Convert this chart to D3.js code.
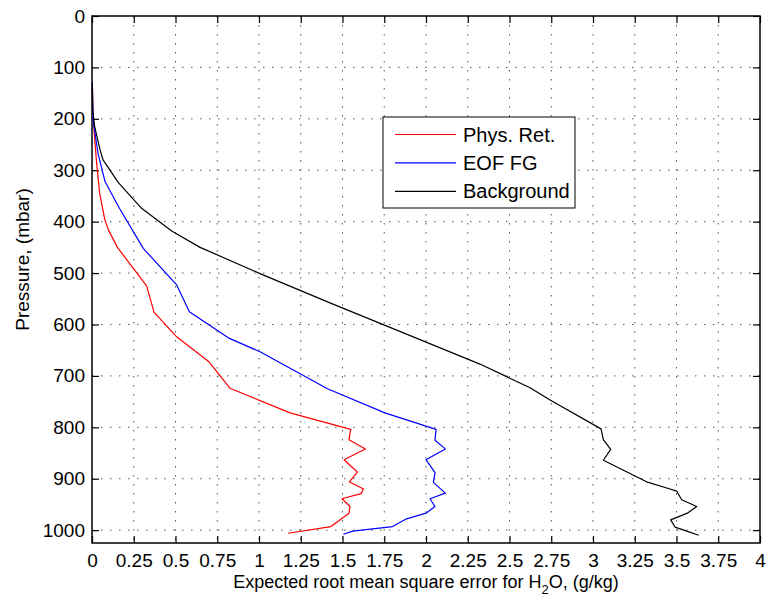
<!DOCTYPE html>
<html>
<head>
<meta charset="utf-8">
<script src="https://cdn.jsdelivr.net/npm/d3@7"></script>
<style>
  body { margin: 0; background: #fff; }
  text { font-family: "Liberation Sans", Arial, Helvetica, sans-serif; }
</style>
</head>
<body>
<div id="chart"></div>
<script>
// pressure levels (mbar) and rms error (g/kg)
var physP = [130, 183, 228, 280, 345, 395, 416, 450, 525, 576, 624, 673, 724, 772, 804, 824, 842, 863, 887, 906, 920, 929, 939, 954, 967, 993, 1006];
var physX = [0.002, 0.005, 0.014, 0.026, 0.046, 0.076, 0.098, 0.152, 0.327, 0.371, 0.507, 0.702, 0.826, 1.186, 1.549, 1.539, 1.637, 1.509, 1.589, 1.541, 1.625, 1.611, 1.497, 1.545, 1.539, 1.431, 1.174];

var eofP = [130, 202, 267, 322, 374, 452, 523, 575, 626, 653, 725, 772, 804, 825, 842, 863, 888, 907, 928, 939, 954, 967, 978, 993, 1002, 1008];
var eofX = [0.002, 0.006, 0.036, 0.078, 0.164, 0.307, 0.507, 0.583, 0.816, 1.006, 1.41, 1.754, 2.06, 2.054, 2.116, 2.0, 2.054, 2.044, 2.116, 2.024, 2.054, 2.0, 1.884, 1.8, 1.561, 1.505];

var bgP = [130, 183, 215, 260, 280, 324, 374, 418, 450, 501, 558, 677, 723, 747, 803, 824, 843, 864, 906, 919, 924, 941, 954, 967, 980, 994, 1002, 1010];
var bgX = [0.002, 0.004, 0.016, 0.048, 0.066, 0.158, 0.297, 0.477, 0.647, 1.006, 1.425, 2.323, 2.623, 2.743, 3.048, 3.062, 3.106, 3.062, 3.321, 3.451, 3.501, 3.531, 3.621, 3.565, 3.465, 3.491, 3.561, 3.633];

var xTicks = [0, 0.25, 0.5, 0.75, 1, 1.25, 1.5, 1.75, 2, 2.25, 2.5, 2.75, 3, 3.25, 3.5, 3.75, 4];
var yTicks = [0, 100, 200, 300, 400, 500, 600, 700, 800, 900, 1000];

var seriesNames = ["Phys. Ret.", "EOF FG", "Background"];
var seriesColors = ["#ff0000", "#0000ff", "#000000"];

var series = [
    {name: seriesNames[0], color: seriesColors[0], p: physP, x: physX},
    {name: seriesNames[1], color: seriesColors[1], p: eofP, x: eofX},
    {name: seriesNames[2], color: seriesColors[2], p: bgP, x: bgX}
];

var margin = {top: 16, right: 9, bottom: 57, left: 92},
    width = 769 - margin.left - margin.right,
    height = 600 - margin.top - margin.bottom;

var x = d3.scaleLinear().domain([0, 4]).range([0, width]);
var y = d3.scaleLinear().domain([0, 1025]).range([0, height]);

var svg = d3.select("#chart").append("svg")
    .attr("width", 769)
    .attr("height", 600)
  .append("g")
    .attr("transform", "translate(" + margin.left + "," + margin.top + ")");

// dotted grid
svg.append("g").selectAll("line").data(xTicks.slice(1, -1)).enter().append("line")
    .attr("x1", function(d) { return x(d); }).attr("x2", function(d) { return x(d); })
    .attr("y1", 0).attr("y2", height)
    .attr("stroke", "#555").attr("stroke-width", 1).attr("stroke-dasharray", "1.5,7.5");
svg.append("g").selectAll("line").data(yTicks.slice(1)).enter().append("line")
    .attr("y1", function(d) { return y(d); }).attr("y2", function(d) { return y(d); })
    .attr("x1", 0).attr("x2", width)
    .attr("stroke", "#555").attr("stroke-width", 1).attr("stroke-dasharray", "1.5,7.5");

// axes with inward ticks
var fmt = function(d) { return String(d); };
svg.append("g")
    .attr("transform", "translate(0," + height + ")")
    .call(d3.axisBottom(x).tickValues(xTicks).tickFormat(fmt).tickSizeInner(-7).tickSizeOuter(0).tickPadding(11));
svg.append("g")
    .call(d3.axisTop(x).tickValues(xTicks).tickFormat("").tickSizeInner(-7).tickSizeOuter(0));
svg.append("g")
    .call(d3.axisLeft(y).tickValues(yTicks).tickFormat(fmt).tickSizeInner(-7).tickSizeOuter(0).tickPadding(7));
svg.append("g")
    .attr("transform", "translate(" + width + ",0)")
    .call(d3.axisRight(y).tickValues(yTicks).tickFormat("").tickSizeInner(-7).tickSizeOuter(0));

svg.selectAll(".domain").remove();
svg.selectAll(".tick line").attr("stroke", "#000").attr("stroke-width", 1.2);
svg.selectAll(".tick text").attr("font-size", "19px").attr("fill", "#000")
    .style("font-family", "'Liberation Sans', Arial, sans-serif");

svg.append("rect")
    .attr("width", width).attr("height", height)
    .attr("fill", "none").attr("stroke", "#000").attr("stroke-width", 1.5);

// curves
var line = d3.line()
    .x(function(d) { return x(d[0]); })
    .y(function(d) { return y(d[1]); });

series.forEach(function(s) {
    svg.append("path")
        .datum(d3.zip(s.x, s.p))
        .attr("d", line)
        .attr("fill", "none")
        .attr("stroke", s.color)
        .attr("stroke-width", 1.2)
        .attr("stroke-linejoin", "round");
});

// legend
var legend = svg.append("g").attr("transform", "translate(" + (383 - margin.left) + "," + (117 - margin.top) + ")");
legend.append("rect")
    .attr("width", 192).attr("height", 91)
    .attr("fill", "#fff").attr("stroke", "#000").attr("stroke-width", 1);
series.forEach(function(s, i) {
    var ly = 17.5 + i * 28.4;
    legend.append("line")
        .attr("x1", 12).attr("x2", 73).attr("y1", ly).attr("y2", ly)
        .attr("stroke", s.color).attr("stroke-width", 1.2);
    legend.append("text")
        .attr("x", 80).attr("y", ly + 7)
        .attr("font-size", "20px")
        .text(s.name);
});

// axis labels
var xl = svg.append("text")
    .attr("x", width / 2).attr("y", height + 45)
    .attr("text-anchor", "middle")
    .attr("font-size", "18px");
xl.append("tspan").text("Expected root mean square error for H");
xl.append("tspan").attr("font-size", "13px").attr("dy", 6).text("2");
xl.append("tspan").attr("dy", -6).text("O, (g/kg)");

svg.append("text")
    .attr("transform", "translate(" + (29 - margin.left) + "," + (height / 2 - 20) + ") rotate(-90)")
    .attr("text-anchor", "middle")
    .attr("font-size", "19px")
    .text("Pressure, (mbar)");
</script>
</body>
</html>
